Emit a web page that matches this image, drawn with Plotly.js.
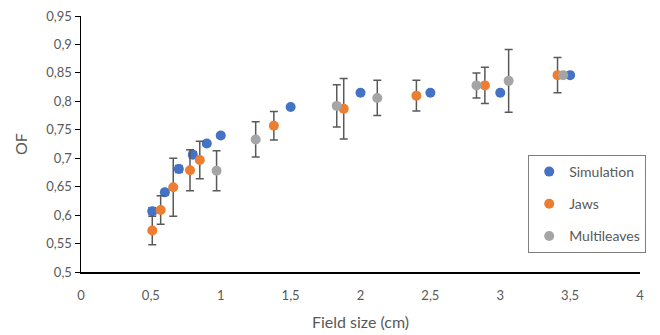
<!DOCTYPE html>
<html>
<head>
<meta charset="utf-8">
<script src="https://cdn.plot.ly/plotly-3.0.1.min.js"></script>
<style>html,body{margin:0;padding:0;background:#fff;}#chart{width:660px;height:335px;}</style>
</head>
<body>
<div id="chart"></div>
<script>
// Simulation
const simX = [0.51, 0.60, 0.70, 0.80, 0.90, 1.00, 1.50, 2.00, 2.50, 3.00, 3.50];
const simY = [0.607, 0.640, 0.681, 0.706, 0.726, 0.740, 0.790, 0.815, 0.815, 0.815, 0.846];
const simErr = [0.006, 0.005, 0.006, 0.006, 0.004, 0.004, 0, 0, 0, 0, 0];
// Jaws
const jawsX = [0.51, 0.57, 0.66, 0.78, 0.85, 1.38, 1.88, 2.40, 2.89, 3.41];
const jawsY = [0.573, 0.609, 0.649, 0.679, 0.697, 0.757, 0.787, 0.810, 0.828, 0.846];
const jawsErr = [0.025, 0.025, 0.051, 0.036, 0.033, 0.025, 0.053, 0.027, 0.032, 0.031];
// Multileaves
const mlX = [0.97, 1.25, 1.83, 2.12, 2.83, 3.06, 3.45];
const mlY = [0.678, 0.733, 0.792, 0.806, 0.828, 0.836, 0.846];
const mlErr = [0.035, 0.031, 0.037, 0.031, 0.022, 0.055, 0];

const xTicks = [0, 0.5, 1, 1.5, 2, 2.5, 3, 3.5, 4];
const yTicks = [0.5, 0.55, 0.6, 0.65, 0.7, 0.75, 0.8, 0.85, 0.9, 0.95];

const errStyle = {type: 'data', visible: true, color: '#595959', thickness: 1.5, width: 4};
function tr(name, x, y, err, color, grp) {
  return {
    type: 'scatter', mode: 'markers', name: name, x: x, y: y,
    legendgroup: grp,
    marker: {color: color, size: 10},
    error_y: Object.assign({array: err}, errStyle)
  };
}
const data = [
  tr('Simulation', simX, simY, simErr, '#4472C4', 'a'),
  tr('Jaws', jawsX, jawsY, jawsErr, '#ED7D31', 'b'),
  tr('Multileaves', mlX, mlY, mlErr, '#A5A5A5', 'c')
];
const fam = 'Lato, "Open Sans", sans-serif';
const fnt = {family: fam, size: 13, color: '#595959'};
const layout = {
  width: 660, height: 335,
  margin: {l: 81, r: 20, t: 16, b: 63},
  paper_bgcolor: '#fff', plot_bgcolor: '#fff',
  separators: ', ',
  showlegend: true,
  font: fnt,
  xaxis: {
    range: [0, 4], tickvals: xTicks, showgrid: false, zeroline: false,
    showline: true, linecolor: '#000', linewidth: 1.5, ticks: '',
    tickfont: fnt, ticklabelstandoff: 11,
    title: {text: 'Field size (cm)', font: {family: fam, size: 16, color: '#595959'}, standoff: 14}
  },
  yaxis: {
    range: [0.5, 0.95], tickvals: yTicks, showgrid: false, zeroline: false,
    showline: true, linecolor: '#000', linewidth: 1.5, ticks: 'outside', ticklen: 5, tickcolor: '#000',
    tickfont: fnt,
    title: {text: 'OF', font: {family: fam, size: 16, color: '#595959'}, standoff: 14}
  },
  legend: {
    x: 0.80, y: 0.457, xanchor: 'left', yanchor: 'top',
    bordercolor: '#7f7f7f', borderwidth: 1, bgcolor: '#fff',
    font: {family: fam, size: 14, color: '#595959'},
    tracegroupgap: 11, traceorder: 'grouped', itemwidth: 30
  }
};
Plotly.newPlot('chart', data, layout, {staticPlot: true}).then(function () {
  // shrink legend symbols to match the reference's small legend dots
  document.querySelectorAll('.legend .scatterpts path').forEach(function (p) {
    p.setAttribute('transform', (p.getAttribute('transform') || '') + ' scale(0.8)');
  });
});
</script>
</body>
</html>
